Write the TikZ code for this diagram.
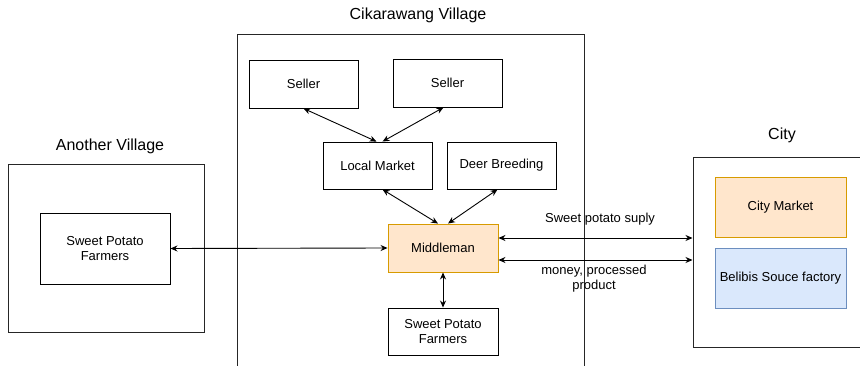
\documentclass[tikz,border=0pt]{standalone}
\usepackage{fontspec}
\setmainfont{Liberation Sans}
\usetikzlibrary{arrows.meta,calc}
\definecolor{orfill}{HTML}{FFE6CC}
\definecolor{ordraw}{HTML}{D79B00}
\definecolor{blfill}{HTML}{DAE8FC}
\definecolor{bldraw}{HTML}{6C8EBF}
\begin{document}
\begin{tikzpicture}[x=1pt,y=-1pt,
  box/.style={draw=black,line width=0.9pt,fill=white,inner sep=0pt,align=center,font=\fontsize{13}{15}\selectfont},
  area/.style={draw=black!85,line width=1pt,inner sep=0pt},
  ttl/.style={font=\fontsize{16}{18}\selectfont,inner sep=0pt},
  lbl/.style={font=\fontsize{13}{15}\selectfont,inner sep=0pt,align=center},
  orbox/.style={box,draw=ordraw,fill=orfill},
  blbox/.style={box,draw=bldraw,fill=blfill},
  conn/.style={line width=0.9pt,{Stealth[length=7pt,width=6pt]}-{Stealth[length=7pt,width=6pt]}}]
\clip (0,0) rectangle (860,366);
\fill[white] (0,0) rectangle (860,366);
% areas
\node[area,minimum width=347pt,minimum height=365pt] (cik) at (410.5,217.5) {};
\node[ttl] (cikt) at (418,15) {Cikarawang Village};
\node[area,minimum width=196pt,minimum height=167pt] (av) at (106,248.5) {};
\node[ttl] (avt) at (110,146) {Another Village};
\node[area,minimum width=187pt,minimum height=189pt] (city) at (786.5,252.5) {};
\node[ttl] (cityt) at (782,135) {City};
% boxes
\node[box,minimum width=109pt,minimum height=48pt] (s1) at (303.5,84) {Seller};
\node[box,minimum width=109pt,minimum height=48pt] (s2) at (447.5,83) {Seller};
\node[box,minimum width=109pt,minimum height=47pt] (lm) at (377.5,165.5) {Local Market};
\node[box,minimum width=109pt,minimum height=47pt] (db) at (501.5,165.5) {Deer Breeding};
\node[orbox,minimum width=110pt,minimum height=48pt] (mm) at (443,248) {Middleman};
\node[box,minimum width=110pt,minimum height=47pt] (spf) at (443,331.5) {Sweet Potato\\Farmers};
\node[box,minimum width=130pt,minimum height=71pt] (spa) at (105,248.5) {Sweet Potato\\Farmers};
\node[orbox,minimum width=131pt,minimum height=60pt] (cm) at (780.5,207) {City Market};
\node[blbox,minimum width=131pt,minimum height=60pt] (bel) at (780.5,278) {Belibis Souce factory};
% connectors
\draw[conn] (s1.south) -- ([xshift=-1pt]lm.north);
\draw[conn] ([xshift=-4pt]s2.south) -- ([xshift=5pt]lm.north);
\draw[conn] ([xshift=5pt]lm.south) -- ([xshift=-5pt]mm.north);
\draw[conn] ([xshift=-4pt]db.south) -- ([xshift=5pt]mm.north);
\draw[conn] (spa.east) -- (mm.west);
\draw[conn] (mm.south) -- (spf.north);
\draw[conn] ([yshift=10pt]mm.east) -- ($([yshift=10pt]mm.east)!1!([yshift=10pt]mm.east -| city.west)$);
\draw[conn] ([yshift=-12pt]mm.east) -- ([yshift=-12pt]mm.east -| city.west);
% labels
\node[lbl] (l1) at (600,219) {Sweet potato suply};
\node[lbl] (l2) at (594,278.5) {money, processed\\product};
\end{tikzpicture}
\end{document}
